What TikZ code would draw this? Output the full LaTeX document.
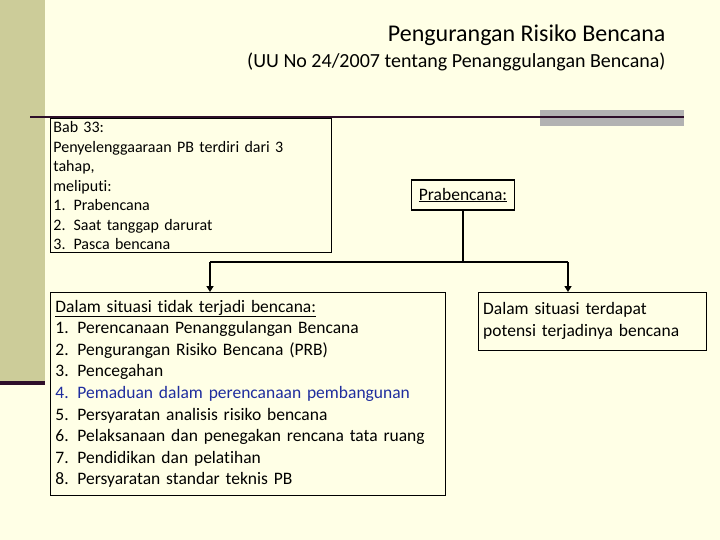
\documentclass[tikz,border=0pt]{standalone}
\usepackage{fontspec}
\setmainfont{Carlito}[Ligatures=NoCommon]
\usetikzlibrary{arrows.meta}
\definecolor{cream}{HTML}{FFFFE6}
\definecolor{khaki}{HTML}{CCCC99}
\definecolor{plum}{HTML}{2E0F2A}
\definecolor{itemblue}{HTML}{1F2D9E}

\begin{document}
\begin{tikzpicture}[x=1pt,y=-1pt,
    txtbox/.style={draw, thick, fill=cream, align=left, anchor=north west, inner sep=3pt},
    link/.style={-, line width=2.5pt},
    arrowlink/.style={-{Triangle[width=7pt,length=6pt]}, line width=2.5pt}]
    % background
    \fill[cream](0,0)rectangle(720,540);
    \useasboundingbox(0,0)rectangle(720,540);
    \fill[khaki](0,0)rectangle(45,385);
    \fill[plum](0,381)rectangle(45,385);
    \fill[gray!60](540,110)rectangle(684,126);
    \draw[plum, line width=2.5pt](30,117)--(684,117);

    \node[anchor=east, font=\fontsize{24}{26}\selectfont](title) at (669,35){Pengurangan Risiko Bencana};
    \node[anchor=east, font=\fontsize{20}{22}\selectfont](subtitle) at (669,62){(UU No 24/2007 tentang Penanggulangan Bencana)};

    \node[txtbox, text width=275pt, minimum height=123pt, font=\fontsize{16}{19.5}\selectfont](bab) at (50,118){Bab 33:\\
Penyelenggaaraan PB terdiri dari 3 tahap,\\
meliputi:\\
1.\enspace Prabencana\\
2.\enspace Saat tanggap darurat\\
3.\enspace Pasca bencana};

    \node[draw, line width=1.5pt, fill=cream, font=\fontsize{17.5}{19}\selectfont, minimum width=103pt, minimum height=30pt](pra) at (463,195){\underline{Prabencana:}};

    \node[txtbox, text width=385pt, minimum height=203pt, inner sep=5pt, font=\fontsize{17.5}{21.6}\selectfont](tidak) at (50,292){\underline{Dalam situasi tidak terjadi bencana:}\\
1.\enspace Perencanaan Penanggulangan Bencana\\
2.\enspace Pengurangan Risiko Bencana (PRB)\\
3.\enspace Pencegahan\\
\textcolor{itemblue}{4.\enspace Pemaduan dalam perencanaan pembangunan}\\
5.\enspace Persyaratan analisis risiko bencana\\
6.\enspace Pelaksanaan dan penegakan rencana tata ruang\\
7.\enspace Pendidikan dan pelatihan\\
8.\enspace Persyaratan standar teknis PB};

    \node[txtbox, thin, text width=218pt, minimum height=58pt, inner sep=5pt, font=\fontsize{17.5}{21.6}\selectfont](potensi) at (478,292){Dalam situasi terdapat\\
potensi terjadinya bencana};

    \coordinate(split) at (463,262);
    \coordinate(leftend) at (210,262);
    \coordinate(rightend) at (568,262);
    \draw[link](pra.south)--(split);
    \draw[link](leftend)--(rightend);
    \draw[arrowlink](leftend)--(leftend|-tidak.north);
    \draw[arrowlink](rightend)--(rightend|-potensi.north);
\end{tikzpicture}
\end{document}
